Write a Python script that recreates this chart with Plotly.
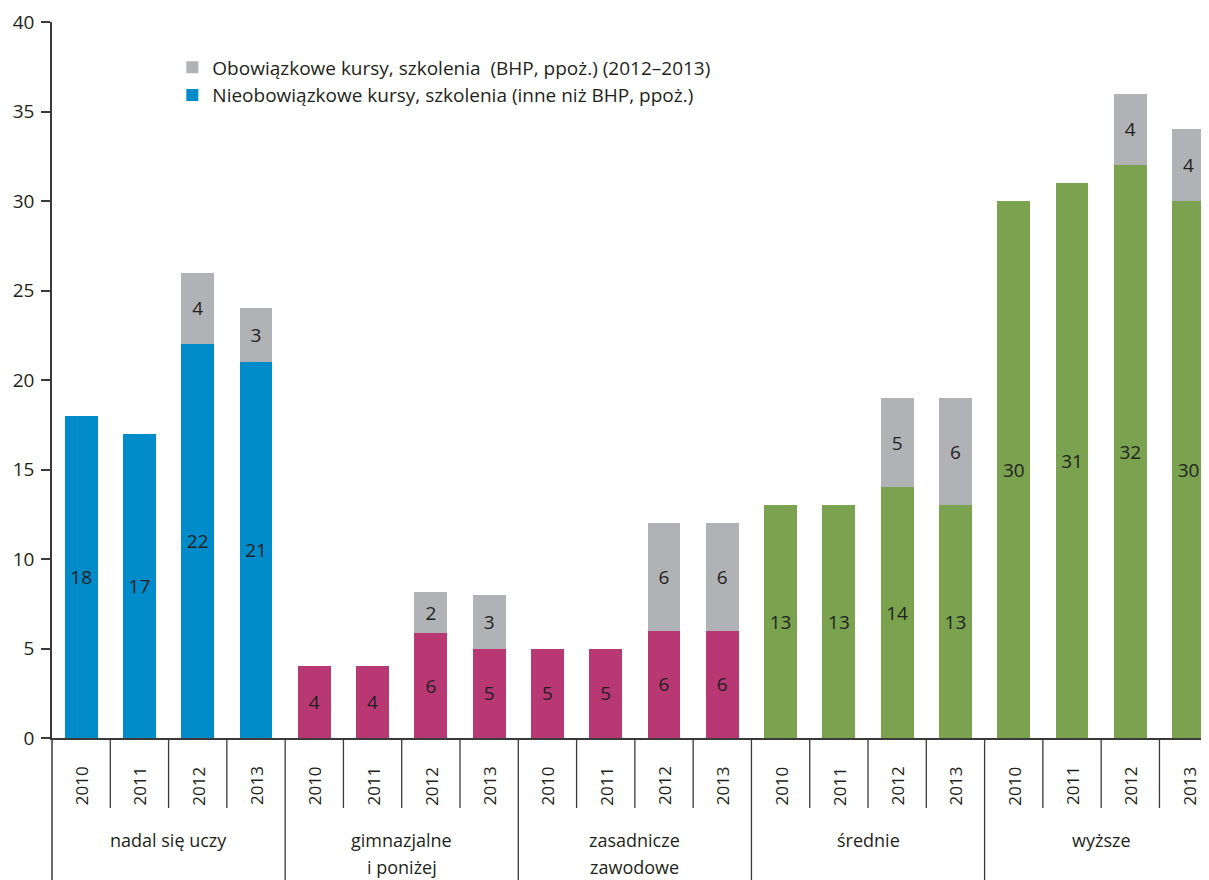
import plotly.graph_objects as go

# ---- data ----
groups = ["nadal się uczy", "gimnazjalne<br>i poniżej", "zasadnicze<br>zawodowe", "średnie", "wyższe"]
years = ["2010", "2011", "2012", "2013"]

nieobowiazkowe = [
    18, 17, 22, 21,        # nadal się uczy
    4, 4, 5.85, 5.0,       # gimnazjalne i poniżej
    5, 5, 6, 6,            # zasadnicze zawodowe
    13, 13, 14, 13,        # średnie
    30, 31, 32, 30,        # wyższe
]
obowiazkowe = [
    None, None, 4, 3,
    None, None, 2.3, 3.0,
    None, None, 6, 6,
    None, None, 5, 6,
    None, None, 4, 4,
]
group_colors = ["#008bcb", "#b83873", "#b83873", "#7ba34f", "#7ba34f"]
grey = "#b1b2b5"
name_obow = "Obowiązkowe kursy, szkolenia  (BHP, ppoż.) (2012–2013)"
name_nieobow = "Nieobowiązkowe kursy, szkolenia (inne niż BHP, ppoż.)"

# ---- derived ----
n_years = len(years)
xs = list(range(len(groups) * n_years))
bar_colors = [group_colors[i // n_years] for i in xs]

FONT = "Open Sans"
TXT = "#231f20"
LINE = "#3a3a3a"

fig = go.Figure()
fig.add_trace(go.Bar(
    x=xs, y=nieobowiazkowe, name=name_nieobow, legendgroup="n", legendrank=2,
    marker=dict(color=bar_colors, line=dict(width=0)),
    width=0.565,
    texttemplate="%{y:.0f}", textposition="inside", insidetextanchor="middle",
    textangle=0, textfont=dict(size=19, color=TXT, family=FONT),
    constraintext="none",
))
fig.add_trace(go.Bar(
    x=xs, y=obowiazkowe, name=name_obow, legendgroup="o", legendrank=1,
    marker=dict(color=grey, line=dict(width=0)),
    width=0.565,
    texttemplate="%{y:.0f}", textposition="inside", insidetextanchor="middle",
    textangle=0, textfont=dict(size=19, color=TXT, family=FONT),
    constraintext="none",
))

plot_h = 716.0
def py(pix):  # pixel offset below the x axis -> paper coordinate
    return -pix / plot_h

shapes = []
annotations = []
# year labels and slot separators
for i in xs:
    annotations.append(dict(
        x=i, y=py(48), xref="x", yref="paper", text=years[i % n_years],
        textangle=-90, showarrow=False, xanchor="center", yanchor="middle",
        font=dict(size=17, color=TXT, family=FONT),
    ))
    if i > 0:
        is_group = (i % n_years == 0)
        shapes.append(dict(
            type="line", xref="x", yref="paper", x0=i - 0.5, x1=i - 0.5,
            y0=0, y1=py(150) if is_group else py(70),
            line=dict(color=LINE, width=1.3), layer="above",
        ))
# left axis extension
shapes.append(dict(type="line", xref="paper", yref="paper", x0=0, x1=0,
                   y0=0, y1=py(150), line=dict(color=LINE, width=1.5)))
# group labels
for g, name in enumerate(groups):
    cx = g * n_years + (n_years - 1) / 2
    for k, line in enumerate(name.split("<br>")):
        annotations.append(dict(
            x=cx, y=py(102 + 27 * k), xref="x", yref="paper", text=line,
            showarrow=False, xanchor="center", yanchor="middle",
            font=dict(size=18, color=TXT, family=FONT),
        ))

# page body has an 8px default margin: size the figure to fill the rest
fig.update_layout(
    width=1201, height=872,
    margin=dict(l=44, r=0, t=14, b=142, pad=0),
    paper_bgcolor="white", plot_bgcolor="white",
    barmode="stack",
    font=dict(family=FONT, size=17, color=TXT),
    showlegend=True,
    legend=dict(
        traceorder="normal", x=0.104, y=0.963, xanchor="left", yanchor="top",
        bgcolor="rgba(0,0,0,0)", font=dict(size=19, color=TXT, family=FONT),
        tracegroupgap=8,
    ),
    xaxis=dict(
        range=[-0.5, 19.35], showticklabels=False, ticks="", showgrid=False,
        zeroline=False, showline=True, linecolor=LINE, linewidth=1.5,
    ),
    yaxis=dict(
        range=[0, 40], dtick=5, showgrid=False, zeroline=False,
        showline=True, linecolor=LINE, linewidth=1.5,
        ticks="outside", ticklen=9, tickwidth=1.5, tickcolor=LINE,
        tickfont=dict(size=19, color=TXT, family=FONT), ticklabelstandoff=3,
    ),
    shapes=shapes, annotations=annotations,
)

fig.write_html("out.html")
